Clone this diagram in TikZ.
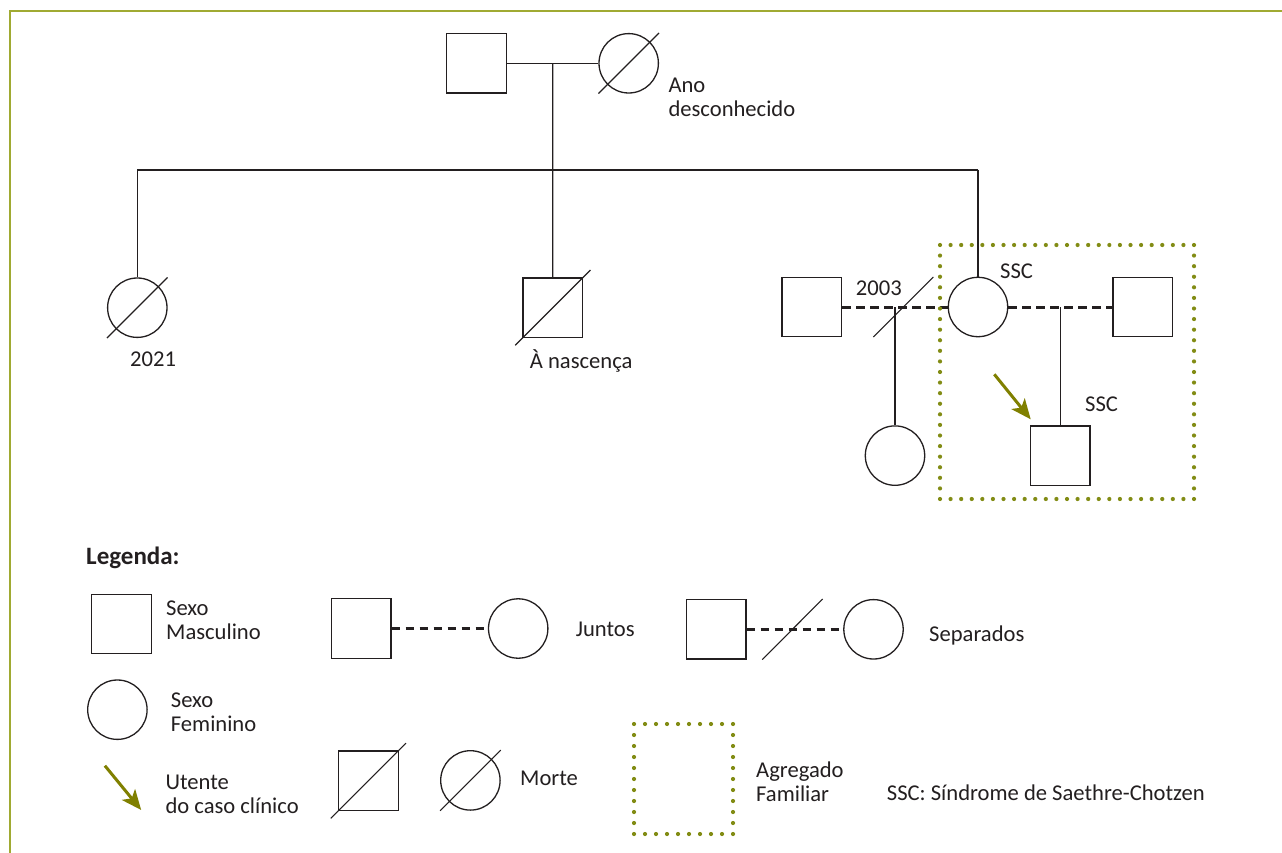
\documentclass[tikz,border=0pt]{standalone}
\usepackage{fontspec}
\setmainfont{Carlito}
\usetikzlibrary{arrows.meta}
\definecolor{olivemain}{RGB}{130,140,20}
\definecolor{olivearrow}{RGB}{128,128,0}
\definecolor{oliveframe}{RGB}{160,170,50}
\definecolor{ink}{RGB}{35,31,32}
\begin{document}
\begin{tikzpicture}[x=1pt,y=-1pt,
  every node/.style={font=\fontsize{22.6}{24}\selectfont, text=ink},
  sq/.style={draw=ink, rectangle, minimum size=59.5pt, inner sep=0pt, line width=1.3pt},
  ci/.style={draw=ink, circle, minimum size=59.4pt, inner sep=0pt, line width=1.3pt},
  lbl/.style={anchor=base west, inner sep=0pt, align=left},
  ln/.style={draw=ink, line width=1.3pt},
  sl/.style={draw=ink, line width=1.1pt},
  dsh/.style={draw=ink, line width=3pt, dash pattern=on 8.5pt off 5.5pt},
  arr/.style={draw=olivearrow, line width=3pt, -{Stealth[length=20pt,width=17pt,inset=5pt]}},
  dotbox/.style={draw=olivemain, line width=4.2pt, line cap=round}
]
\useasboundingbox (0,0) rectangle (1282,853);
\fill[white] (0,0) rectangle (1282,853);
% frame
\draw[oliveframe, line width=2.2pt] (1282,11) -- (10,11) -- (10,853);

% ---------- pedigree ----------
\node[sq] (gf) at (476.5,63.3) {};
\node[ci] (gm) at (628.7,63.3) {};
\draw[ln] (gf.east) -- (gm.west);
\draw[sl] (598.4,93.6) -- (659.0,33.0);
\node[lbl] (tano) at (668.3,116.7) {Ano\\desconhecido};
\coordinate (gp) at (552.7,63.3);
\coordinate (sib) at (552.7,170);

\node[ci] (c1) at (137.3,307.7) {};
\node[sq] (c2) at (552.8,307.7) {};
\node[ci] (c3) at (978,307) {};
\draw[ln] (gp) -- (c2.north);
\draw[ln] (c1.north |- sib) -- (c3.north |- sib);
\draw[ln] (c1.north |- sib) -- (c1.north);
\draw[ln] (c3.north |- sib) -- (c3.north);
\draw[sl] (107.0,338.0) -- (167.6,277.4);
\draw[sl] (515.2,345.3) -- (590.4,270.1);
\node[lbl] (t2021) at (130,366) {2021};
\node[lbl] (tnasc) at (529.7,368.3) {À nascença};
\node[lbl] (tssc1) at (1000,278.3) {SSC};

\node[sq] (h1) at (811.7,307) {};
\node[sq] (h2) at (1142.8,307) {};
\draw[dsh] (h1.east) -- (c3.west);
\draw[dsh] (c3.east) -- (h2.west);
\draw[sl] (873.3,337.0) -- (933.3,277.0);
\node[lbl] (t2003) at (855.7,295) {2003};
\coordinate (m1) at (895,307);
\coordinate (m2) at (1060.3,307);
\node[ci] (d) at (895,455.6) {};
\node[sq] (s) at (1060.3,455.6) {};
\draw[ln] (m1) -- (d.north);
\draw[ln] (m2) -- (s.north);
\node[lbl] (tssc2) at (1085,411.7) {SSC};
\coordinate (a1) at (994.3,374.3);
\coordinate (a2) at (1030.7,419.3);
\draw[arr] (a1) -- (a2);
\draw[dotbox, dash pattern=on 0pt off 10.5833pt] (940,245) rectangle (1194,499);

% ---------- legend ----------
\node[lbl, font=\fontsize{25}{27}\selectfont\bfseries] (tleg) at (86,564) {Legenda:};

\node[sq] (lm) at (121.4,624) {};
\node[lbl] (tlm) at (166,639) {Sexo\\Masculino};

\node[sq] (ljm) at (361.2,628.5) {};
\node[ci] (ljf) at (518.2,628.5) {};
\draw[dsh] (ljm.east) -- (ljf.west);
\node[lbl] (tjun) at (575.6,636) {Juntos};

\node[sq] (lsm) at (716.3,629.3) {};
\node[ci] (lsf) at (873.5,629.3) {};
\draw[dsh] (lsm.east) -- (lsf.west);
\draw[sl] (762.3,659.6) -- (822.6,599.0);
\node[lbl] (tsep) at (929,641) {Separados};

\node[ci] (lf) at (117.4,709.7) {};
\node[lbl] (tlf) at (170.7,731) {Sexo\\Feminino};

\coordinate (la1) at (104.9,765.7);
\coordinate (la2) at (141.2,810);
\draw[arr] (la1) -- (la2);
\node[lbl] (tut) at (165.3,813.3) {Utente\\do caso clínico};

\node[sq] (ldm) at (368.4,780.8) {};
\draw[sl] (330.8,818.4) -- (406.0,743.2);
\node[ci] (ldf) at (470.4,780.4) {};
\draw[sl] (440.1,810.7) -- (500.7,750.1);
\node[lbl] (tmor) at (520,785.3) {Morte};

\draw[dotbox, dash pattern=on 0pt off 11pt] (634,724) rectangle (733,834);
\node[lbl] (tagr) at (756,801.7) {Agregado\\Familiar};
\node[lbl] (tssc) at (886.7,800) {SSC: Síndrome de Saethre-Chotzen};
\end{tikzpicture}
\end{document}
